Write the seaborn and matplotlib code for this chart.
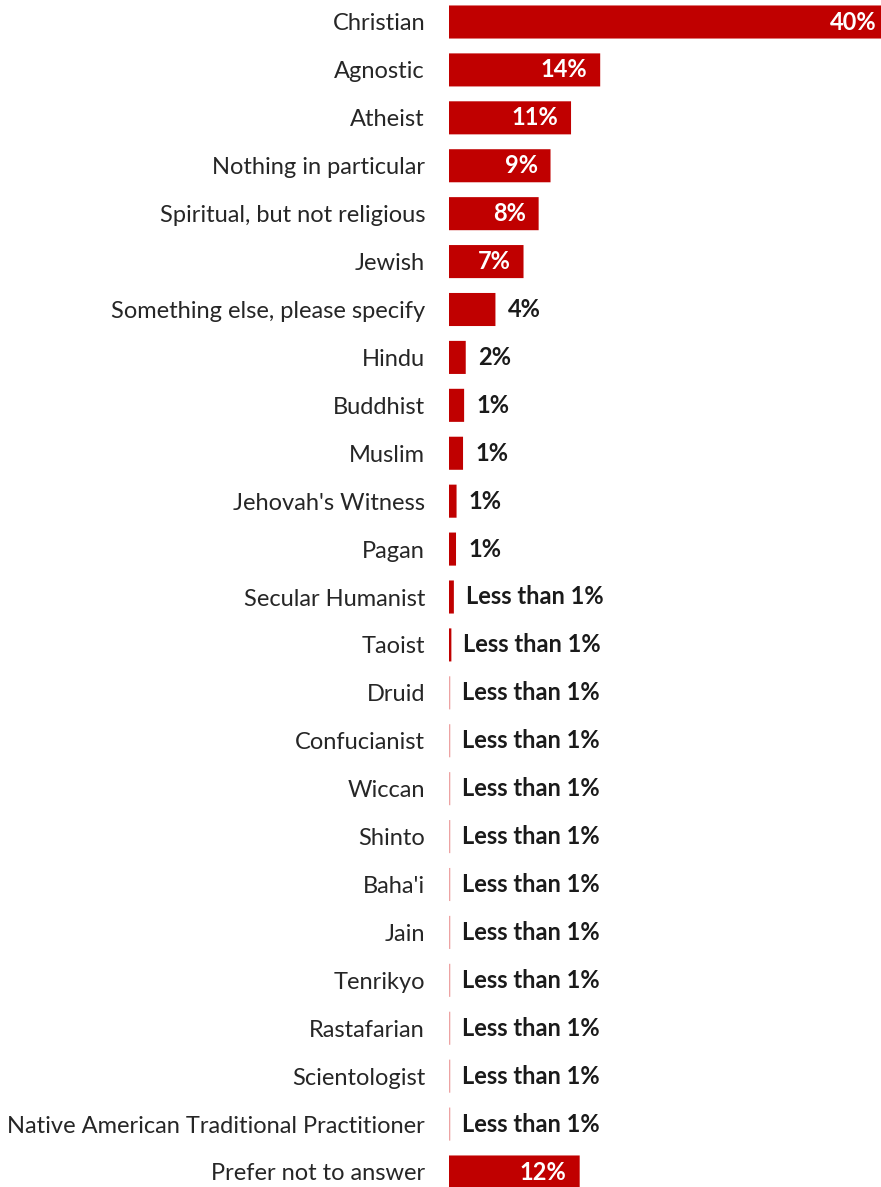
import matplotlib
matplotlib.use("Agg")
import matplotlib.pyplot as plt
import seaborn as sns
import pandas as pd

# Survey responses: religious identity (% of respondents)
categories = [
    "Christian", "Agnostic", "Atheist", "Nothing in particular",
    "Spiritual, but not religious", "Jewish", "Something else, please specify",
    "Hindu", "Buddhist", "Muslim", "Jehovah's Witness", "Pagan",
    "Secular Humanist", "Taoist", "Druid", "Confucianist", "Wiccan", "Shinto",
    "Baha'i", "Jain", "Tenrikyo", "Rastafarian", "Scientologist",
    "Native American Traditional Practitioner", "Prefer not to answer",
]
shares = [
    40.0, 14.0, 11.3, 9.4, 8.3, 6.9, 4.3,
    1.55, 1.4, 1.3, 0.7, 0.65,
    0.45, 0.22, 0.12, 0.12, 0.12, 0.12,
    0.12, 0.12, 0.12, 0.12, 0.12,
    0.12, 12.1,
]
df = pd.DataFrame({"category": categories, "share": shares})

RED = "#C00000"
PALE_RED = "#EDA3A3"  # hairline bars render faded
W, H, DPI = 881, 1187, 100

sns.set_theme(style="white")
plt.rcParams["font.family"] = ["Lato", "DejaVu Sans"]

fig = plt.figure(figsize=(W / DPI, H / DPI), dpi=DPI)
n = len(df)
pitch = 1150 / (n - 1)  # px between row centres
first_center = 22
ax_top = first_center - pitch / 2
ax_bottom = ax_top + pitch * n
left_px, right_px = 449, 881
ax = fig.add_axes([left_px / W, (H - ax_bottom) / H,
                   (right_px - left_px) / W, (ax_bottom - ax_top) / H])

sns.barplot(data=df, y="category", x="share", orient="h", color=RED,
            saturation=1, width=0.69, linewidth=0, ax=ax)
for bar in ax.patches:
    bar.set_snap(False)
    bar.set_edgecolor("none")
    if bar.get_width() < 0.2:
        bar.set_facecolor(PALE_RED)
ax.set_xlim(0, 40)
ax.set_xlabel("")
ax.set_ylabel("")
ax.set_xticks([])
sns.despine(ax=ax, left=True, bottom=True)
ax.tick_params(axis="y", length=0, pad=24 * 72 / DPI, labelsize=17,
               labelcolor="#262626")

for i, v in enumerate(df["share"]):
    r = round(v)
    label = "Less than 1%" if r < 1 else f"{r}%"
    if v >= 6:
        pad = 4 if v >= 40 else 13
        ax.annotate(label, (v, i), xytext=(-pad * 72 / DPI, 0),
                    textcoords="offset points", ha="right", va="center",
                    color="white", fontsize=17, fontweight="bold")
    else:
        ax.annotate(label, (v, i), xytext=(12 * 72 / DPI, 0),
                    textcoords="offset points", ha="left", va="center",
                    color="#1a1a1a", fontsize=17, fontweight="bold")

fig.savefig("out.png", dpi=DPI)
